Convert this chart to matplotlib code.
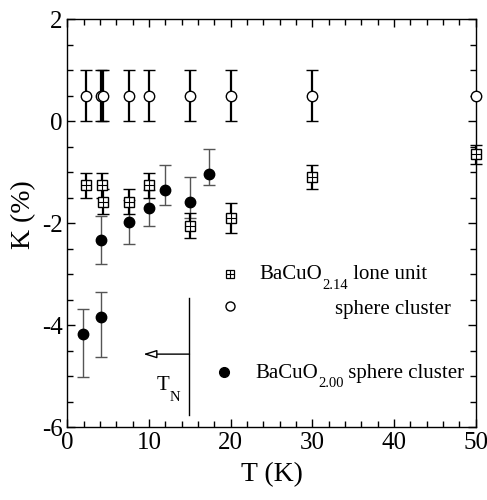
import matplotlib
matplotlib.use("Agg")
import matplotlib.pyplot as plt
from matplotlib.ticker import MultipleLocator
from matplotlib.transforms import offset_copy
import numpy as np

plt.rcParams['font.family'] = ['Liberation Serif', 'DejaVu Serif']
plt.rcParams['axes.unicode_minus'] = False

# BaCuO2.14 sphere cluster (open circles)
T_circ = [2.3, 4.15, 4.35, 7.5, 10.0, 15.0, 20.0, 30.0]
K_circ = [0.5, 0.5, 0.5, 0.5, 0.5, 0.5, 0.5, 0.5]
E_circ = [0.5, 0.5, 0.5, 0.5, 0.5, 0.5, 0.5, 0.5]
T_circ_end = [50.0]
K_circ_end = [0.5]

# BaCuO2.14 lone unit (crossed squares)
T_sq = [2.3, 4.2, 4.4, 7.5, 10.0, 15.0, 20.0, 30.0, 50.0]
K_sq = [-1.26, -1.26, -1.58, -1.58, -1.26, -2.05, -1.90, -1.09, -0.65]
E_sq = [0.25, 0.25, 0.25, 0.25, 0.25, 0.25, 0.30, 0.24, 0.18]

# BaCuO2.00 sphere cluster (filled circles)
T_fill = [1.9, 4.15, 4.15, 7.5, 10.0, 12.0, 15.0, 17.4]
K_fill = [-4.17, -3.85, -2.33, -1.98, -1.70, -1.35, -1.59, -1.04]
E_fill_lo = [0.85, 0.78, 0.47, 0.43, 0.35, 0.29, 0.30, 0.22]
E_fill_hi = [0.48, 0.50, 0.47, 0.43, 0.35, 0.50, 0.49, 0.49]

fig = plt.figure(figsize=(4.87, 5.0), dpi=100)
ax = fig.add_axes([0.1386, 0.146, 0.8378, 0.8154])

# filled circles
ax.errorbar(T_fill, K_fill, yerr=[E_fill_lo, E_fill_hi], fmt='o', color='black',
            ecolor='#555555', elinewidth=1.0, capsize=4.5, capthick=1.0,
            markersize=7.5, zorder=3)
# open circles
ax.errorbar(T_circ, K_circ, yerr=E_circ, fmt='o', mfc='white', mec='black', mew=1.0,
            ecolor='black', elinewidth=1.6, capsize=4.5, capthick=1.6,
            markersize=7.5, zorder=4)
ax.plot(T_circ_end, K_circ_end, 'o', mfc='white', mec='black', mew=1.0,
        markersize=7.5, zorder=5, clip_on=False)
# crossed squares
ax.errorbar(T_sq, K_sq, yerr=E_sq, fmt='s', mfc='white', mec='black', mew=1.0,
            ecolor='black', elinewidth=1.6, capsize=4.5, capthick=1.6,
            markersize=7.5, zorder=4, clip_on=False)
ax.plot(T_sq, K_sq, '+', color='black', mew=0.8, markersize=7.5, zorder=5, clip_on=False)

fig.canvas.draw()
renderer = fig.canvas.get_renderer()


def rich(x, y, parts, size=15, subsize=10.5, dy=-7):
    """parts: list of (text, is_sub). Draw sequentially starting at data (x, y)."""
    trans = ax.transData
    dx = 0.0
    for txt, sub in parts:
        t = ax.text(x, y, txt, fontsize=subsize if sub else size,
                    va='baseline', ha='left',
                    transform=offset_copy(trans, fig=fig, x=dx, y=(dy if sub else 0), units='points'))
        bb = t.get_window_extent(renderer=renderer)
        dx += bb.width * 72.0 / fig.dpi


# legend (manual)
ax.plot([19.9], [-3.0], 's', mfc='white', mec='black', mew=0.9, markersize=6, zorder=5)
ax.plot([19.9], [-3.0], '+', color='black', mew=0.8, markersize=6, zorder=6)
rich(23.5, -3.10, [('BaCuO', False), ('2.14', True), (' lone unit', False)])
ax.plot([19.9], [-3.63], 'o', mfc='white', mec='black', mew=1.0, markersize=6.5, zorder=5)
rich(32.8, -3.78, [('sphere cluster', False)])
ax.plot([19.2], [-4.93], 'o', color='black', markersize=7, zorder=5)
rich(23.0, -5.03, [('BaCuO', False), ('2.00', True), (' sphere cluster', False)])

# T_N annotation
ax.plot([14.95, 14.95], [-3.46, -5.77], color='black', lw=1.0)
ax.annotate('', xy=(9.3, -4.57), xytext=(14.95, -4.57),
            arrowprops=dict(arrowstyle='-|>,head_length=0.8,head_width=0.25',
                            fc='white', ec='black', lw=1.0, shrinkA=0, shrinkB=0))
rich(10.9, -5.27, [('T', False), ('N', True)], size=15, subsize=10.5, dy=-8)

ax.set_xlim(0, 50)
ax.set_ylim(-6, 2)
ax.xaxis.set_major_locator(MultipleLocator(10))
ax.xaxis.set_minor_locator(MultipleLocator(2))
ax.yaxis.set_major_locator(MultipleLocator(2))
ax.yaxis.set_minor_locator(MultipleLocator(0.5))
ax.tick_params(which='both', direction='in', top=True, right=True, labelsize=18, width=1.0)
ax.tick_params(which='major', length=6, pad=3.5)
ax.tick_params(which='minor', length=4)
for s in ax.spines.values():
    s.set_linewidth(1.0)

ax.set_xlabel('T (K)', fontsize=20, labelpad=6)
ax.set_ylabel('K (%)', fontsize=20)
ax.yaxis.set_label_coords(-0.078, 0.52)

fig.savefig('out.png', dpi=100)
